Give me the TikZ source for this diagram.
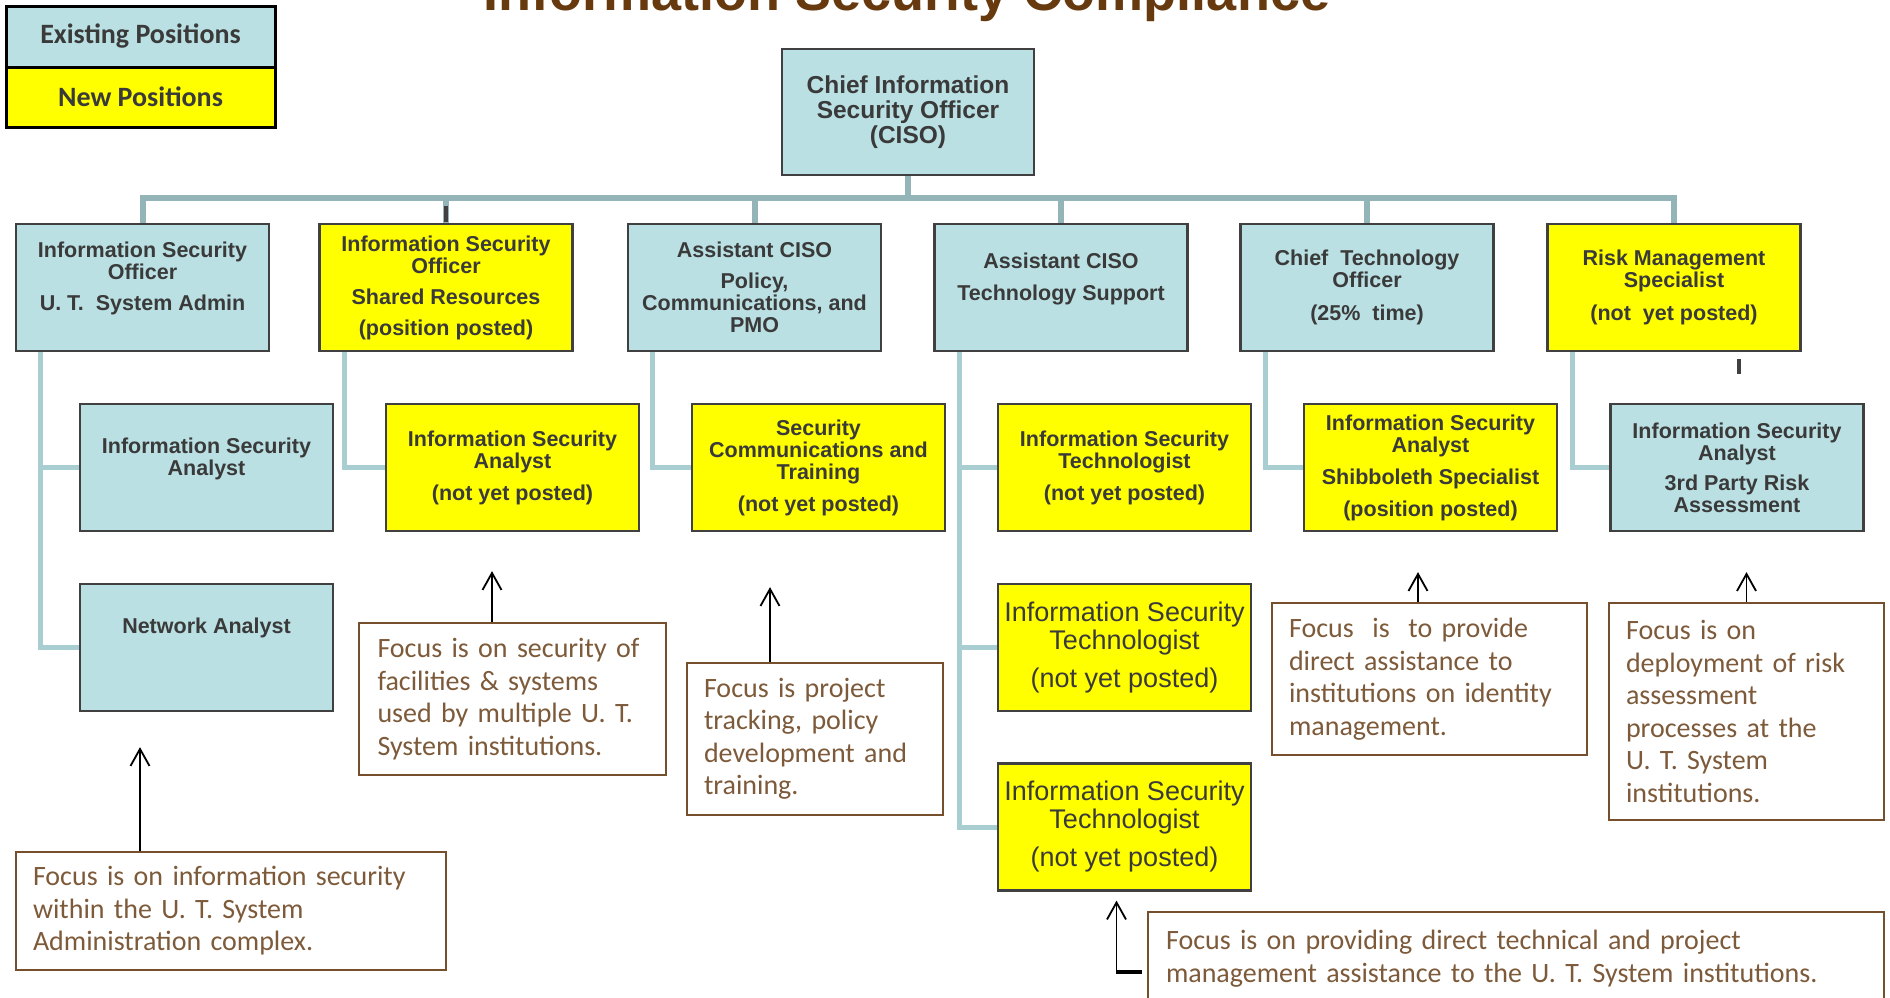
\documentclass[tikz,border=0pt]{standalone}
\usepackage{fontspec}
\setmainfont{Liberation Sans}
\newfontfamily\calfont{Carlito}
\usetikzlibrary{arrows.meta}

\definecolor{existfill}{RGB}{186,224,227}
\definecolor{newfill}{RGB}{255,255,0}
\definecolor{boxline}{RGB}{64,64,64}
\definecolor{boxtext}{RGB}{58,58,58}
\definecolor{busline}{RGB}{148,181,184}
\definecolor{linkline}{RGB}{168,206,210}
\definecolor{notebrown}{RGB}{118,80,45}
\definecolor{notetext}{RGB}{125,90,58}
\definecolor{titlebrown}{RGB}{102,58,14}

\begin{document}
\begin{tikzpicture}[%
      x=1pt, y=-1pt,
      position/.style={draw=boxline, line width=2.2pt, inner sep=0pt, minimum width=253pt,
        minimum height=127pt, align=center, text=boxtext, font=\fontsize{21.5}{22}\selectfont\bfseries},
      existing/.style={position, fill=existfill},
      newpos/.style={position, fill=newfill},
      techpos/.style={newpos, font=\fontsize{27}{28}\selectfont},
      legend/.style={draw=black, line width=3pt, minimum width=269pt, text=boxtext,
        font=\calfont\bfseries\fontsize{28}{28}\selectfont},
      note/.style={draw=notebrown, line width=2pt, inner sep=0pt, align=left, text=notetext,
        font=\calfont\fontsize{28}{32.5}\selectfont},
      bus/.style={color=busline, line width=6pt},
      link/.style={color=linkline, line width=5pt},
      pointer/.style={color=black, line width=1.8pt, -{Straight Barb[length=17pt,width=19pt]}},
      ]
      \useasboundingbox[fill=white] (0,0) rectangle (1890,997);

      % legend and title
      \node [legend, fill=existfill, minimum height=61pt] (keyOld) at (140.5,36.5) {Existing Positions};
      \node [legend, fill=newfill, minimum height=60pt] (keyNew) at (140.5,97) {New Positions};
      \node [anchor=base, text=titlebrown, font=\fontsize{54}{54}\selectfont\bfseries] (title) at (907,10)
        {Information Security Compliance};

      % chart lines
      \coordinate (bus) at (0,198);
      \node [existing, minimum width=252pt, minimum height=126pt, font=\fontsize{24.5}{25}\selectfont\bfseries]
        (ciso) at (908,112) {Chief Information\\Security Officer\\(CISO)};

      \node [existing] (isoAdmin) at (142.5,287.5) {Information Security\\Officer\\[9pt]U. T.~ System Admin\\\mbox{}};
      \node [newpos] (isoShared) at (446,287.5) {Information Security\\Officer\\[9pt]Shared Resources\\[9pt](position posted)};
      \node [existing] (acisoPolicy) at (754.5,287.5) {Assistant CISO\\[9pt]Policy,\\Communications, and\\PMO};
      \node [existing] (acisoTech) at (1061,287.5) {Assistant CISO\\[10pt]Technology Support\\\mbox{}};
      \node [existing] (cto) at (1367,287.5) {Chief~ Technology\\Officer\\[11pt](25\%~ time)};
      \node [newpos] (riskMgr) at (1674,287.5) {Risk Management\\Specialist\\[11pt](not~ yet posted)};

      \node [existing] (analystAdmin) at (206.5,467.5) {Information Security\\Analyst\\\mbox{}};
      \node [newpos] (analystShared) at (512.5,467.5) {Information Security\\Analyst\\[10pt](not yet posted)};
      \node [newpos] (secComms) at (818.5,467.5) {Security\\Communications and\\Training\\[10pt](not yet posted)};
      \node [newpos] (technoA) at (1124.5,467.5) {Information Security\\Technologist\\[10pt](not yet posted)};
      \node [newpos] (shibboleth) at (1430.5,467.5) {Information Security\\Analyst\\[10pt]Shibboleth Specialist\\[10pt](position posted)};
      \node [existing] (thirdParty) at (1737,467.5) {Information Security\\Analyst\\[8pt]3rd Party Risk\\Assessment};

      \node [existing] (netAnalyst) at (206.5,647.5) {Network Analyst\\\mbox{}\\\mbox{}};
      \node [techpos] (technoB) at (1124.5,647.5) {Information Security\\Technologist\\[10pt](not yet posted)};
      \node [techpos] (technoC) at (1124.5,827) {Information Security\\Technologist\\[10pt](not yet posted)};

      \draw [bus] (isoAdmin.north) -- (isoAdmin.north |- bus) -- (riskMgr.north |- bus) -- (riskMgr.north);
      \foreach \n in {isoShared,acisoPolicy,acisoTech,cto}
        \draw [bus] (\n.north) -- (\n.north |- bus);
      \draw [bus] (ciso.south) -- (ciso.south |- bus);

      \draw [link] ([xshift=26pt]isoAdmin.south west) |- (analystAdmin.west);
      \draw [link] ([xshift=26pt]isoAdmin.south west) |- (netAnalyst.west);
      \draw [link] ([xshift=26pt]isoShared.south west) |- (analystShared.west);
      \draw [link] ([xshift=26pt]acisoPolicy.south west) |- (secComms.west);
      \draw [link] ([xshift=26pt]acisoTech.south west) |- (technoA.west);
      \draw [link] ([xshift=26pt]acisoTech.south west) |- (technoB.west);
      \draw [link] ([xshift=26pt]acisoTech.south west) |- (technoC.west);
      \draw [link] ([xshift=26pt]cto.south west) |- (shibboleth.west);
      \draw [link] ([xshift=26pt]riskMgr.south west) |- (thirdParty.west);

      \draw [color=boxline, line width=3.5pt] (446,206) -- (446,222);
      \draw [color=boxline, line width=3.5pt] (1739,359) -- (1739,374);

      % notes
      \node [note, text width=396pt, minimum width=430pt, minimum height=118pt] (focusAdmin) at (231,911)
        {Focus is on information security\\within the U. T. System\\Administration complex.};
      \node [note, text width=270pt, minimum width=307pt, minimum height=152pt] (focusShared) at (512.5,699)
        {Focus is on security of\\facilities \& systems\\used by multiple U. T.\\System institutions.};
      \node [note, text width=222pt, minimum width=256pt, minimum height=152pt] (focusPolicy) at (815,739)
        {Focus is project\\tracking, policy\\development and\\training.};
      \node [note, text width=281pt, minimum width=315pt, minimum height=152pt] (focusIdentity) at (1429.5,679)
        {Focus~ is~ to provide\\direct assistance to\\institutions on identity\\management.};
      \node [note, text width=241pt, minimum width=275pt, minimum height=217pt] (focusRisk) at (1746.5,711.5)
        {Focus is on\\deployment of risk\\assessment\\processes at the\\U. T. System\\institutions.};
      \node [note, text width=700pt, minimum width=736pt, minimum height=93pt] (focusTech) at (1516,958.5)
        {Focus is on providing direct technical and project\\management assistance to the U. T. System institutions.};

      \coordinate (pAdmin) at ([xshift=-91pt]focusAdmin.north);
      \coordinate (pShared) at ([xshift=-20.5pt]focusShared.north);
      \coordinate (pPolicy) at ([xshift=-45pt]focusPolicy.north);
      \coordinate (pIdentity) at ([xshift=-11.5pt]focusIdentity.north);
      \coordinate (pRisk) at (focusRisk.north);
      \coordinate (pTech) at ([shift={(-5pt,-13.5pt)}]focusTech.west);

      \draw [pointer, shorten >=35pt] (pAdmin) -- (pAdmin |- netAnalyst.south);
      \draw [pointer, shorten >=39pt] (pShared) -- (pShared |- analystShared.south);
      \draw [pointer, shorten >=55pt] (pPolicy) -- (pPolicy |- secComms.south);
      \draw [pointer, shorten >=40pt] (pIdentity) -- (pIdentity |- shibboleth.south);
      \draw [pointer, shorten >=40pt] (pRisk) -- (pRisk |- thirdParty.south);
      \draw [pointer, shorten >=9pt] (pTech) -| ([xshift=-8pt]technoC.south);
      \draw [color=black, line width=4pt] (pTech) -- ([xshift=-26pt]pTech);
\end{tikzpicture}
\end{document}
